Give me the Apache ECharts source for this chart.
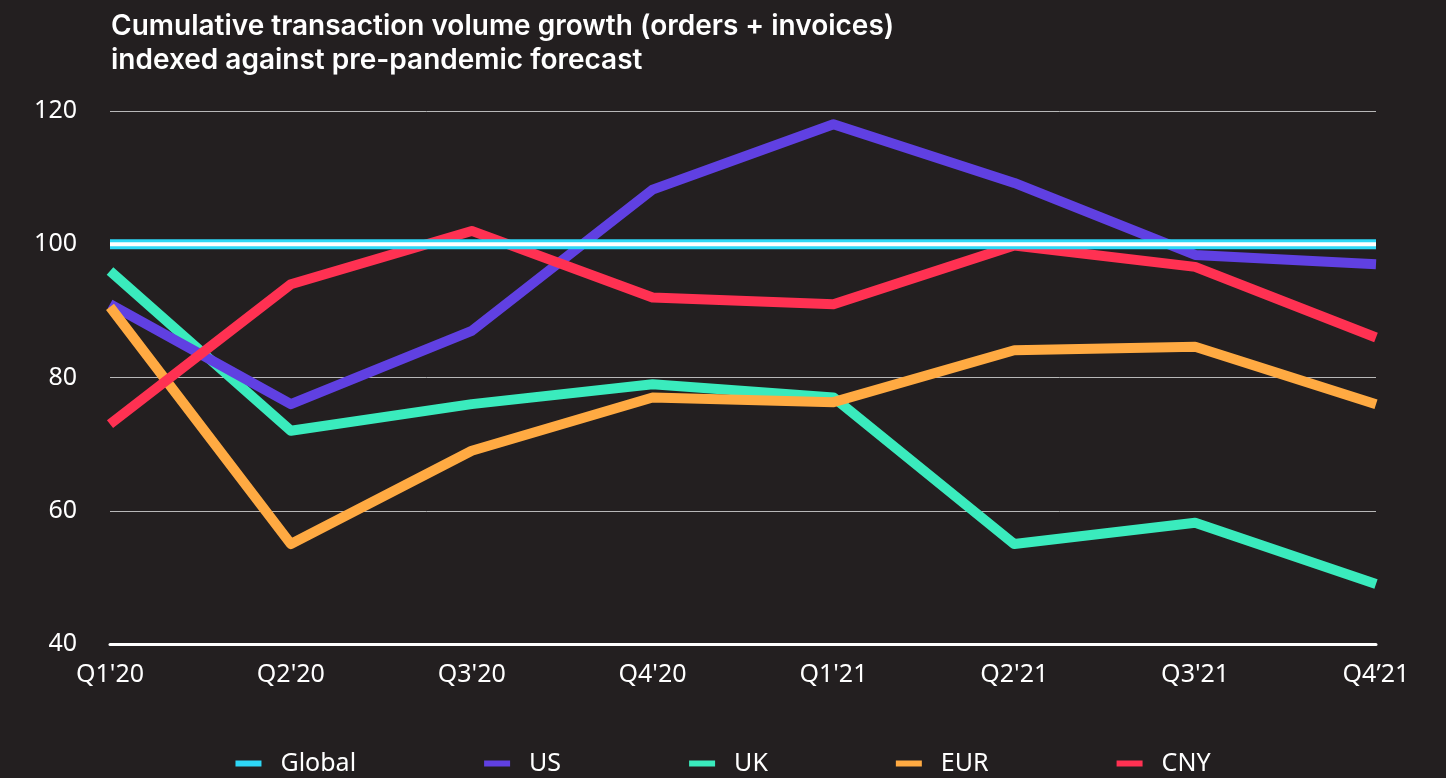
<!DOCTYPE html>
<html>
<head>
<meta charset="utf-8">
<script src="https://cdn.jsdelivr.net/npm/echarts@6/dist/echarts.min.js"></script>
<style>
  html, body { margin: 0; padding: 0; background: #231f20; }
  #chart { width: 1446px; height: 778px; }
</style>
</head>
<body>
<div id="chart"></div>
<script>
let quarters = ["Q1'20", "Q2'20", "Q3'20", "Q4'20", "Q1'21", "Q2'21", "Q3'21", "Q4\u201921"];
let globalIdx = [100, 100, 100, 100, 100, 100, 100, 100];
let usIdx = [91, 76, 87, 108.2, 118, 109.2, 98.4, 97];
let ukIdx = [96, 72, 76, 79, 77, 55, 58.2, 49];
let eurIdx = [90.6, 55, 69, 77, 76.3, 84.1, 84.6, 76];
let cnyIdx = [73, 94, 102, 92, 91, 99.8, 96.6, 86];

let font = '"Noto Sans", "Open Sans", sans-serif';

let line = (name, data, color, z) => ({
    name: name,
    type: 'line',
    data: data,
    symbol: 'none',
    z: z,
    lineStyle: { color: color, width: 10, cap: 'butt', join: 'round' },
    itemStyle: { color: color },
    emphasis: { disabled: true }
});

let option = {
    backgroundColor: '#231f20',
    animation: false,
    title: {
        text: 'Cumulative transaction volume growth (orders + invoices)\nindexed against pre-pandemic forecast',
        left: 106,
        top: 5,
        textStyle: {
            color: '#ffffff',
            fontFamily: 'Inter, "Noto Sans", sans-serif',
            fontWeight: 600,
            fontSize: 28,
            lineHeight: 34
        }
    },
    legend: {
        data: ['Global', 'US', 'UK', 'EUR', 'CNY'],
        bottom: -3,
        left: 'center',
        icon: 'rect',
        itemWidth: 26,
        itemHeight: 6,
        itemGap: 128,
        textStyle: {
            color: '#ffffff',
            fontFamily: font,
            fontSize: 25,
            padding: [0, 0, 0, 14]
        }
    },
    grid: {
        left: 110,
        right: 70,
        top: 111,
        bottom: 134
    },
    xAxis: {
        type: 'category',
        data: quarters,
        boundaryGap: false,
        axisLine: { show: true, lineStyle: { color: '#ffffff', width: 3 } },
        axisTick: { show: false },
        axisLabel: {
            color: '#ffffff',
            fontFamily: font,
            fontSize: 25,
            margin: 18
        },
        splitLine: { show: false }
    },
    yAxis: {
        type: 'value',
        min: 40,
        max: 120,
        interval: 20,
        axisLine: { show: false },
        axisTick: { show: false },
        axisLabel: {
            color: '#ffffff',
            fontFamily: font,
            fontSize: 25,
            margin: 33
        },
        splitLine: { lineStyle: { color: '#b8b8b8', width: 1 } }
    },
    series: [
        line('US', usIdx, '#6040e2', 3),
        line('UK', ukIdx, '#3aebbd', 2),
        line('EUR', eurIdx, '#ffaa42', 4),
        line('CNY', cnyIdx, '#ff3152', 5),
        line('Global', globalIdx, '#2ed7f6', 8),
        {
            name: 'GlobalCore',
            type: 'line',
            data: globalIdx,
            symbol: 'none',
            z: 9,
            lineStyle: { color: '#ffffff', width: 4 },
            emphasis: { disabled: true },
            silent: true
        }
    ]
};

let chart = echarts.init(document.getElementById('chart'));
chart.setOption(option);
</script>
</body>
</html>
